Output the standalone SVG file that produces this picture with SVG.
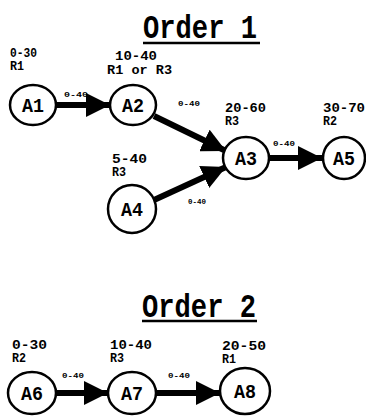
<svg xmlns="http://www.w3.org/2000/svg" width="366" height="419" viewBox="0 0 366 419">
<style>
.title{font-family:"Liberation Mono",monospace;font-weight:bold;font-size:34px;fill:#000}
.lbl{font-family:"Liberation Mono",monospace;font-weight:bold;font-size:12px;fill:#000}
.node ellipse{fill:#fff;stroke:#000;stroke-width:2.5}
.node text.nm{font-family:"Liberation Mono",monospace;font-weight:bold;font-size:21px;fill:#000}
.edge{stroke:#000;stroke-width:6;fill:none;marker-end:url(#ah)}
.elbl{font-family:"Liberation Mono",monospace;font-weight:bold;font-size:7px;fill:#000}
.ul{stroke:#000;stroke-width:2.5}
</style>
<defs>
<marker id="ah" markerWidth="4" markerHeight="4" refX="4" refY="2" orient="auto" markerUnits="strokeWidth">
<path d="M0,0 L4,2 L0,4 Z" fill="#000"/>
</marker>
</defs>
<rect width="366" height="419" fill="#fff"/>
<g id="title1">
<text class="title" x="143" y="38" textLength="114" lengthAdjust="spacingAndGlyphs">Order 1</text>
<line class="ul" x1="143" y1="43" x2="260" y2="43"/>
</g>
<g id="title2">
<text class="title" x="142" y="317" textLength="114" lengthAdjust="spacingAndGlyphs">Order 2</text>
<line class="ul" x1="142" y1="321" x2="257" y2="321"/>
</g>
<g id="connectors">
<line class="edge" x1="56" y1="105" x2="110" y2="105"/>
<line class="edge" x1="154" y1="116" x2="226" y2="151"/>
<line class="edge" x1="154" y1="200" x2="226" y2="167"/>
<line class="edge" x1="269" y1="158" x2="322" y2="158"/>
<line class="edge" x1="56" y1="393" x2="108" y2="393"/>
<line class="edge" x1="156" y1="393" x2="220" y2="393"/>
<text class="elbl" x="64" y="97" textLength="24" lengthAdjust="spacingAndGlyphs">0-40</text>
<text class="elbl" x="178" y="106" textLength="22" lengthAdjust="spacingAndGlyphs">0-40</text>
<text class="elbl" x="273" y="146" textLength="22" lengthAdjust="spacingAndGlyphs">0-40</text>
<text class="elbl" x="188" y="204" textLength="18" lengthAdjust="spacingAndGlyphs">0-40</text>
<text class="elbl" x="62" y="378" textLength="22" lengthAdjust="spacingAndGlyphs">0-40</text>
<text class="elbl" x="168" y="378" textLength="22" lengthAdjust="spacingAndGlyphs">0-40</text>
</g>
<g id="A1" class="node">
<ellipse cx="33" cy="105" rx="23" ry="20"/>
<text class="nm" x="22" y="112" textLength="22" lengthAdjust="spacingAndGlyphs">A1</text>
<text class="lbl" x="10" y="57" textLength="27" lengthAdjust="spacingAndGlyphs">0-30</text>
<text class="lbl" x="10" y="70" textLength="14" lengthAdjust="spacingAndGlyphs">R1</text>
</g>
<g id="A2" class="node">
<ellipse cx="133" cy="105" rx="23" ry="20"/>
<text class="nm" x="122" y="112" textLength="22" lengthAdjust="spacingAndGlyphs">A2</text>
<text class="lbl" x="115" y="60" textLength="42" lengthAdjust="spacingAndGlyphs">10-40</text>
<text class="lbl" x="107" y="74" textLength="65" lengthAdjust="spacingAndGlyphs">R1 or R3</text>
</g>
<g id="A3" class="node">
<ellipse cx="246" cy="158" rx="23" ry="21"/>
<text class="nm" x="235" y="165" textLength="22" lengthAdjust="spacingAndGlyphs">A3</text>
<text class="lbl" x="225" y="112" textLength="41" lengthAdjust="spacingAndGlyphs">20-60</text>
<text class="lbl" x="225" y="125" textLength="14" lengthAdjust="spacingAndGlyphs">R3</text>
</g>
<g id="A5" class="node">
<ellipse cx="344" cy="158" rx="21" ry="21"/>
<text class="nm" x="333" y="165" textLength="22" lengthAdjust="spacingAndGlyphs">A5</text>
<text class="lbl" x="323" y="112" textLength="42" lengthAdjust="spacingAndGlyphs">30-70</text>
<text class="lbl" x="323" y="125" textLength="14" lengthAdjust="spacingAndGlyphs">R2</text>
</g>
<g id="A4" class="node">
<ellipse cx="132" cy="209" rx="24" ry="24"/>
<text class="nm" x="121" y="216" textLength="22" lengthAdjust="spacingAndGlyphs">A4</text>
<text class="lbl" x="112" y="163" textLength="35" lengthAdjust="spacingAndGlyphs">5-40</text>
<text class="lbl" x="112" y="176" textLength="14" lengthAdjust="spacingAndGlyphs">R3</text>
</g>
<g id="A6" class="node">
<ellipse cx="32" cy="393" rx="24" ry="21"/>
<text class="nm" x="21" y="400" textLength="22" lengthAdjust="spacingAndGlyphs">A6</text>
<text class="lbl" x="12" y="349" textLength="35" lengthAdjust="spacingAndGlyphs">0-30</text>
<text class="lbl" x="12" y="362" textLength="14" lengthAdjust="spacingAndGlyphs">R2</text>
</g>
<g id="A7" class="node">
<ellipse cx="132" cy="393" rx="24" ry="21"/>
<text class="nm" x="121" y="400" textLength="22" lengthAdjust="spacingAndGlyphs">A7</text>
<text class="lbl" x="110" y="349" textLength="42" lengthAdjust="spacingAndGlyphs">10-40</text>
<text class="lbl" x="110" y="362" textLength="14" lengthAdjust="spacingAndGlyphs">R3</text>
</g>
<g id="A8" class="node">
<ellipse cx="245" cy="391" rx="25" ry="23"/>
<text class="nm" x="234" y="398" textLength="22" lengthAdjust="spacingAndGlyphs">A8</text>
<text class="lbl" x="222" y="350" textLength="44" lengthAdjust="spacingAndGlyphs">20-50</text>
<text class="lbl" x="222" y="363" textLength="14" lengthAdjust="spacingAndGlyphs">R1</text>
</g>
</svg>
